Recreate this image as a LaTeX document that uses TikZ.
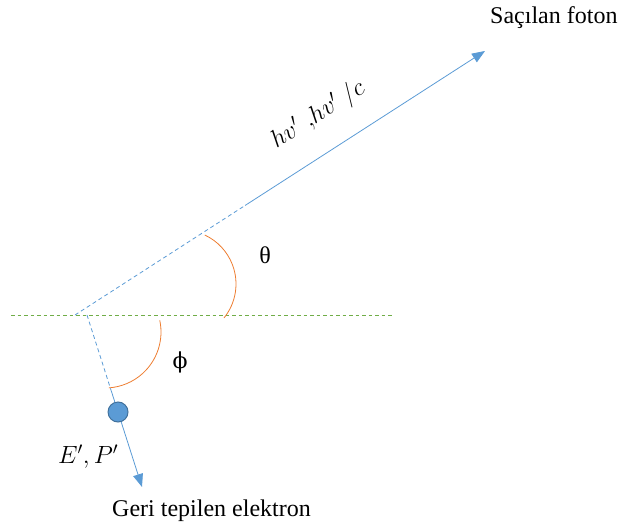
\documentclass[tikz,border=0pt]{standalone}
\usepackage{fontspec}
\setmainfont{Liberation Serif}
\newfontfamily\greekalt{DejaVu Serif}
\usetikzlibrary{arrows.meta,calc}
\definecolor{lineblue}{HTML}{5B9BD5}
\definecolor{circedge}{HTML}{41719C}
\definecolor{arcorange}{HTML}{ED7D31}
\definecolor{axisgreen}{HTML}{70AD47}
\begin{document}
\begin{tikzpicture}[x=1pt,y=1pt,
  ray/.style={draw=lineblue, line width=0.8pt},
  raydash/.style={ray, dash pattern=on 4pt off 3pt},
  axisline/.style={draw=axisgreen, line width=0.7pt, dash pattern=on 3.5pt off 3pt},
  anglearc/.style={draw=arcorange, line width=0.8pt},
  tipped/.style={-{Triangle[length=13pt,width=10pt]}},
  lbl/.style={inner sep=0pt, font=\fontsize{24}{28}\selectfont},
  electron/.style={circle, minimum size=20pt, inner sep=0pt, fill=lineblue, draw=circedge, line width=1pt}]
\useasboundingbox (0,0) rectangle (623,529);
% key points
\coordinate (L) at (11,214);
\coordinate (R) at (392,214);
\coordinate (O1) at (75,214);
\coordinate (P) at (485,478);
\coordinate (O2) at (87,214);
\coordinate (Q) at (142,42);
\coordinate (S1) at ($(O1)!0.415!(P)$);
\coordinate (S2) at ($(O2)!0.44!(Q)$);
\coordinate (EC) at ($(O2)!0.564!(Q)$);
\coordinate (CT) at (182,245);
\coordinate (CP) at (105,197);
% horizontal axis
\draw[axisline] (L) -- (R);
% scattered photon
\draw[raydash] (O1) -- (S1);
\draw[ray,tipped] (S1) -- (P);
% recoil electron
\node[electron] (e) at (EC) {};
\draw[raydash] (O2) -- (S2);
\draw[ray] (S2) -- (e);
\draw[ray,tipped] (e) -- (Q);
% angle arcs
\draw[anglearc] ($(CT)+(-39:54)$) arc[start angle=-39, end angle=65, radius=54];
\draw[anglearc] ($(CP)+(12:56)$) arc[start angle=12, end angle=-86, radius=56];
% labels
\node[lbl, anchor=base west] (sf) at (490,505.7) {Saçılan foton};
\node[lbl, anchor=base west] (ge) at (112,12.3) {Geri tepilen elektron};
\node[lbl] (th) at (265,274) {θ};
\node[lbl, font=\fontsize{22}{26}\selectfont\greekalt] (ph) at (180,167) {ϕ};
\node[lbl, anchor=base west] (ep) at (58,65) {$E'{,}\,P'$};
\node[lbl, rotate=32.7] (hv) at (318,414) {$hv'\;{,}hv'\;/c$};
\end{tikzpicture}
\end{document}
